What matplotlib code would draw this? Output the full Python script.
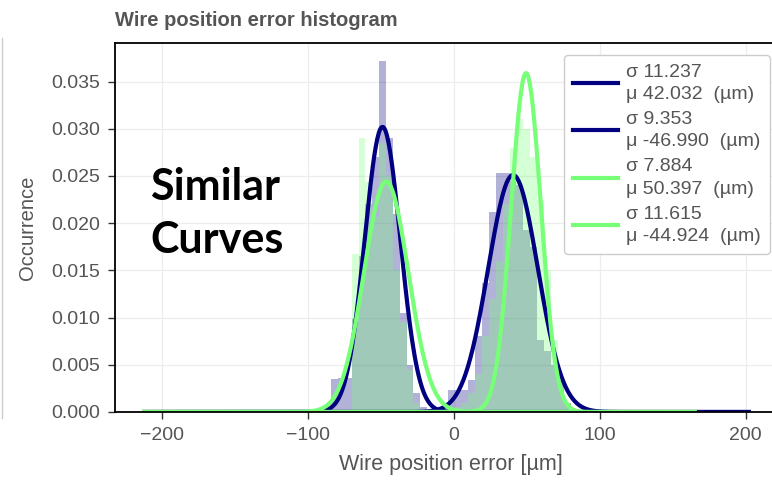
import numpy as np
import matplotlib
matplotlib.use("Agg")
import matplotlib.pyplot as plt
from matplotlib.lines import Line2D

plt.rcParams["font.family"] = ["Liberation Sans", "DejaVu Sans"]

# histogram bins (~4.7 um wide)
bin_start, bin_width = -84.0, 4.7
blue_hist = [0.0035, 0.0036, 0.0036, 0.0098, 0.0165, 0.022, 0.027, 0.0372, 0.0290, 0.0210,
             0.0105, 0.0050, 0.0020, 0.0005, 0.0, 0.0, 0.0005, 0.0023, 0.0023, 0.0023,
             0.0034, 0.0080, 0.0137, 0.0212, 0.0253, 0.0253, 0.0245, 0.0240, 0.0193, 0.0175,
             0.0076, 0.0065, 0.0050, 0.0034, 0.0010]
green_hist = [0.0, 0.0, 0.0, 0.0167, 0.0290, 0.0244, 0.0207, 0.0285, 0.0250, 0.0150,
              0.0095, 0.0045, 0.0010, 0.0, 0.0, 0.0, 0.0, 0.0, 0.0005, 0.0010,
              0.0020, 0.0040, 0.0080, 0.0120, 0.0160, 0.0220, 0.0280, 0.0310, 0.0300, 0.0270,
              0.0225, 0.0150, 0.0076, 0.0035, 0.0010]

# legend values of the fits
fit_sigma = [11.237, 9.353, 7.884, 11.615]
fit_mu = [42.032, -46.990, 50.397, -44.924]

# fitted curves as drawn (peak height, centre, width)
curve_peak = [0.0251, 0.0302, 0.0359, 0.0244]
curve_centre = [40.6, -48.8, 49.5, -46.3]
curve_width = [17.0, 12.2, 10.2, 15.2]
curve_range = [(-212, 202), (-212, 202), (-212, 165), (-212, 165)]

NAVY, GREEN = "#000080", "#77ff77"
fit_colors = [NAVY, NAVY, GREEN, GREEN]

fig = plt.figure(figsize=(7.72, 4.8), dpi=100)
ax = fig.add_axes([0.149, 0.1417, 0.87, 0.769])

edges = bin_start + bin_width * np.arange(len(blue_hist))
ax.bar(edges, blue_hist, width=bin_width, align="edge", color=NAVY, alpha=0.3, lw=0)
ax.bar(edges, green_hist, width=bin_width, align="edge", color=GREEN, alpha=0.3, lw=0)

handles = []
for pk, m, s, c, (lo, hi), ls, lm in zip(curve_peak, curve_centre, curve_width, fit_colors,
                                          curve_range, fit_sigma, fit_mu):
    x = np.linspace(lo, hi, 800)
    y = pk * np.exp(-0.5 * ((x - m) / s) ** 2)
    ln, = ax.plot(x, y, color=c, lw=3, label=f"σ {ls:.3f}\nμ {lm:.3f}  (µm)")
    handles.append(ln)

ax.set_xlim(-232, 228)
ax.set_ylim(0, 0.0391)
ax.set_xticks([-200, -100, 0, 100, 200])
yt = np.arange(0, 0.0351, 0.005)
ax.set_yticks(yt)
ax.set_yticklabels([f"{v:.3f}" for v in yt])
ax.grid(color="#ededed", lw=0.9)
ax.set_axisbelow(True)
for sp in ("left", "top", "bottom"):
    ax.spines[sp].set_color("black")
    ax.spines[sp].set_linewidth(1.3)
ax.tick_params(colors="#333333", labelcolor="#555555", labelsize=14, length=5, width=1, pad=6)

ax.set_xlabel("Wire position error [µm]", color="#555555", fontsize=15.5, labelpad=7)
ax.set_ylabel("Occurrence", color="#555555", fontsize=14.5, labelpad=10)
fig.text(0.149, 1 - 20 / 480, "Wire position error histogram", color="#555555",
         fontsize=14.5, fontweight="bold", ha="left", va="center")

leg = ax.legend(handles=handles, loc="upper right", bbox_to_anchor=(770 / 772, 1 - 55 / 480),
                bbox_transform=fig.transFigure, fontsize=14, handlelength=2.3,
                labelspacing=0.42, borderpad=0.45, handletextpad=0.45, borderaxespad=0,
                framealpha=1, edgecolor="#cccccc", fancybox=True)
for t in leg.get_texts():
    t.set_color("#555555")
    t.set_linespacing(1.4)

fig.text(150 / 772, 1 - 200 / 480, "Similar", fontsize=31, fontweight="bold",
         family=["Lato", "DejaVu Sans"], ha="left", va="baseline")
fig.text(150 / 772, 1 - 253 / 480, "Curves", fontsize=31, fontweight="bold",
         family=["Lato", "DejaVu Sans"], ha="left", va="baseline")

fig.add_artist(Line2D([0.003, 0.003], [0.13, 0.92], transform=fig.transFigure,
                      color="#cccccc", lw=1))

fig.savefig("out.png", dpi=100)
